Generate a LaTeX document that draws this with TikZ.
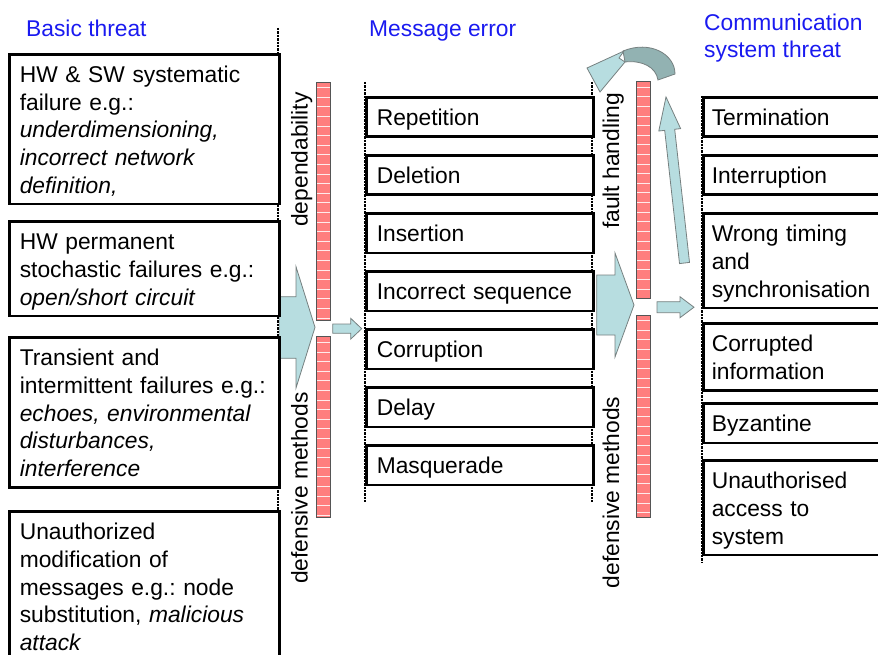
\documentclass[tikz,border=0pt]{standalone}
\usepackage{fontspec}
\setmainfont{Liberation Sans}
\usetikzlibrary{calc}

\definecolor{titleblue}{RGB}{26,26,240}
\definecolor{arrowfill}{RGB}{183,221,224}
\definecolor{arrowband}{RGB}{146,178,178}
\definecolor{arrowline}{RGB}{118,128,128}
\definecolor{barfill}{RGB}{255,126,126}
\definecolor{barline}{RGB}{85,85,85}

% struts fixing the distance from the frame to the first and the last baseline
\newcommand\firstline{\rule{0pt}{26pt}}
\newcommand\lastline{\rule[-8.5pt]{0pt}{8.5pt}}
\newcommand\headstrut{\rule{0pt}{17pt}}

\tikzset{
  every node/.style={font=\fontsize{22.8}{27.6}\selectfont\frenchspacing},
  threat/.style={rectangle, draw=black, line width=2.6pt, fill=white,
    anchor=north west, inner ysep=2.5pt, align=left},
  leftbox/.style={threat, inner xsep=10.5pt, text width=249pt},
  midbox/.style={threat, inner xsep=10.5pt, text width=206pt},
  rightbox/.style={threat, inner xsep=8.5pt, text width=173pt},
  heading/.style={text=titleblue, inner sep=0pt, anchor=north west, align=left},
  sidelabel/.style={rotate=90, anchor=base, inner sep=0pt},
  bar/.style={rectangle, draw=barline, line width=0.8pt, fill=barfill,
    minimum width=14.7pt, inner sep=0pt, outer sep=0pt, anchor=north west,
    path picture={\foreach \k in {1,...,30}{
      \draw[white, line width=0.8pt, opacity=0.85]
        ($(path picture bounding box.north west)+(-2,\k*9.6-4)$) -- ++(22,0);}}},
  separator/.style={line width=2.6pt, preaction={draw=white, solid},
    draw=black, dash pattern=on 2.4pt off 1pt},
  blockarrow/.style={fill=arrowfill, draw=arrowline, line width=0.8pt},
  bandarrow/.style={fill=arrowband, draw=arrowline, line width=0.8pt},
}

\begin{document}
\begin{tikzpicture}[x=1pt,y=-1pt]
\useasboundingbox (0,0) rectangle (878,655);

% column headings
\node[heading] (hbasic) at (26,19) {\headstrut Basic threat};
\node[heading] (hmsg) at (369,19) {\headstrut Message error};
\node[heading] (hcomm) at (704,13) {\headstrut Communication\\system threat};

% block arrows
\draw[blockarrow] (279,296.7) -- (296,296.7) -- (296,266.7) -- (315,327.3)
  -- (296,388) -- (296,358.3) -- (279,358.3) -- cycle;
\draw[blockarrow] (332.7,324) -- (350.7,324) -- (350.7,318.3) -- (361.7,328.7)
  -- (350.7,339.1) -- (350.7,333.3) -- (332.7,333.3) -- cycle;
\draw[blockarrow] (596.7,275) -- (615,275) -- (615,253) -- (634,305)
  -- (615,357) -- (615,335) -- (596.7,335) -- cycle;
\draw[blockarrow] (657,301.7) -- (680,301.7) -- (680,296.7) -- (694,307.2)
  -- (680,317.7) -- (680,312.7) -- (657,312.7) -- cycle;
% upward arrow to the fault handling
\draw[blockarrow] (689.5,262.4) -- (674.7,129.3) -- (680.6,128.6) -- (666,97)
  -- (658.8,131.0) -- (664.7,130.4) -- (679.5,263.6) -- cycle;
% curved return arrow
\draw[bandarrow] (623,51) .. controls (650,40) and (675,54) .. (675,74)
  -- (658,80) .. controls (656,67) and (642,60) .. (625,62) -- cycle;
\draw[blockarrow] (600,92) -- (587,68) -- (624,51) -- (619,58) -- (625,62) -- cycle;

% column separators
\coordinate (sa1) at (278,28);  \coordinate (sa2) at (278,662);
\coordinate (sb1) at (365,82);  \coordinate (sb2) at (365,502);
\coordinate (sc1) at (592,82);  \coordinate (sc2) at (592,502);
\coordinate (sd1) at (702,96);  \coordinate (sd2) at (702,562);
\draw[separator] (sa1) -- (sa2);
\draw[separator] (sb1) -- (sb2);
\draw[separator] (sc1) -- (sc2);
\draw[separator] (sd1) -- (sd2);

% barriers
\node[bar, minimum height=238.7pt] (bar1) at (316,82) {};
\node[bar, minimum height=180.3pt] (bar2) at (316,336.7) {};
\node[bar, minimum height=216.3pt] (bar3) at (636,81.7) {};
\node[bar, minimum height=202pt] (bar4) at (636,315) {};

% barrier labels
\node[sidelabel] (dep) at (307.5,159.5) {dependability};
\node[sidelabel] (defa) at (307.5,488) {defensive methods};
\node[sidelabel] (fault) at (619,161) {fault handling};
\node[sidelabel] (defb) at (619,492.5) {defensive methods};

% basic threats
\node[leftbox] (l1) at (8,53) {\firstline HW \& SW systematic\\failure e.g.:\\
  \textit{underdimensioning,}\\\textit{incorrect network}\\\textit{definition,}\lastline};
\node[leftbox] (l2) at (8,220) {\firstline HW permanent\\stochastic failures e.g.:\\
  \textit{open/short circuit}\lastline};
\node[leftbox] (l3) at (8,336) {\firstline Transient and\\intermittent failures e.g.:\\
  \textit{echoes, environmental}\\\textit{disturbances,}\\\textit{interference}\lastline};
\node[leftbox] (l4) at (8,510) {\firstline Unauthorized\\modification of\\
  messages e.g.: node\\substitution, \textit{malicious}\\\textit{attack}\lastline};

% message errors
\node[midbox] (m1) at (365,96) {\firstline Repetition\lastline};
\node[midbox] (m2) at (365,154) {\firstline Deletion\lastline};
\node[midbox] (m3) at (365,212) {\firstline Insertion\lastline};
\node[midbox] (m4) at (365,270) {\firstline Incorrect sequence\lastline};
\node[midbox] (m5) at (365,328) {\firstline Corruption\lastline};
\node[midbox] (m6) at (365,386) {\firstline Delay\lastline};
\node[midbox] (m7) at (365,444) {\firstline Masquerade\lastline};

% communication system threats
\node[rightbox] (r1) at (702,96) {\firstline Termination\lastline};
\node[rightbox] (r2) at (702,154) {\firstline Interruption\lastline};
\node[rightbox] (r3) at (702,212) {\firstline Wrong timing\\and\\synchronisation\lastline};
\node[rightbox] (r4) at (702,322) {\firstline Corrupted\\information\lastline};
\node[rightbox] (r5) at (702,402) {\firstline Byzantine\lastline};
\node[rightbox] (r6) at (702,459) {\firstline Unauthorised\\access to\\system\lastline};
\end{tikzpicture}
\end{document}
